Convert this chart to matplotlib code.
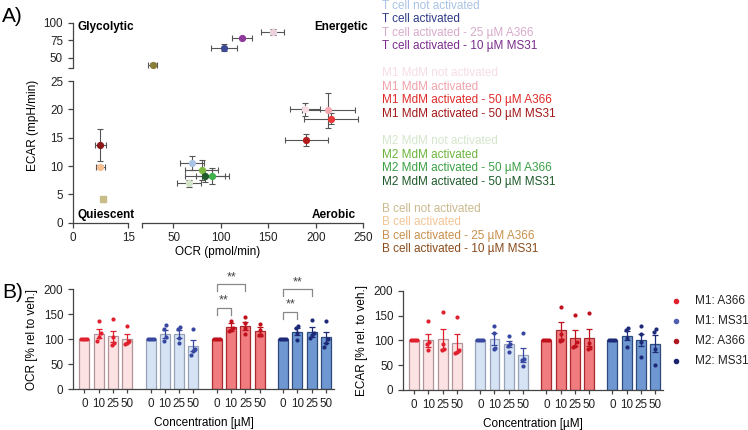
import matplotlib
matplotlib.use('Agg')
import matplotlib.pyplot as plt
import numpy as np

plt.rcParams['font.family'] = ['Liberation Sans', 'DejaVu Sans']
plt.rcParams['font.size'] = 8.5

W, H = 748, 430
AX_COL = '#444444'

# ---------------- Panel A data ----------------
labels_A = ['T cell not activated', 'T cell activated', 'T cell activated - 25 µM A366', 'T cell activated - 10 µM MS31',
            'M1 MdM not activated', 'M1 MdM activated', 'M1 MdM activated - 50 µM A366', 'M1 MdM activated - 50 µM MS31',
            'M2 MdM not activated', 'M2 MdM activated', 'M2 MdM activated - 50 µM A366', 'M2 MdM activated - 50 µM MS31',
            'B cell not activated', 'B cell activated', 'B cell activated - 25 µM A366', 'B cell activated - 10 µM MS31']
text_colors_A = ['#a9c4e4', '#2e3a87', '#d8aacb', '#7b2d8e',
                 '#f7dde4', '#f0a2aa', '#e02a2a', '#a31818',
                 '#d5e6cc', '#6cb43c', '#3aa044', '#1e5a2a',
                 '#cbb98e', '#f2c596', '#c8904c', '#8a4a1a']
point_colors_A = ['#a9c4e4', '#3c4a96', '#ecd2de', '#8e3a9a',
                  '#f6dde3', '#f4a8b0', '#e83838', '#b01c1c',
                  '#d4e4c8', '#7ab840', '#40b04a', '#1e5a2c',
                  '#c8bc88', '#f8c090', '#8a7d3a', '#8a1818']
markers_A = ['o'] * 12 + ['s', 'o', 'o', 'o']
ocr_A = [69.4, 103.7, 154.6, 122.6, 188.6, 213, 216, 190, 66.3, 79.9, 91, 83.5, 8.25, 7.4, 28, 7.4]
ocr_err_A = [12.3, 13.7, 12.3, 10.5, 15.8, 28, 28, 23, 12.8, 17.5, 17.5, 21, 0, 1.2, 4.4, 1.5]
ecar_A = [10.5, 64.6, 86.8, 78.8, 20.0, 19.8, 18.35, 14.6, 6.95, 9.3, 8.24, 8.24, 4.1, 9.9, 40, 13.7]
ecar_err_A = [1.2, 4.5, 4.5, 1.5, 1.2, 3.1, 1.0, 1.0, 0.6, 1.7, 1.4, 1.0, 0, 0.3, 2.0, 2.8]

# ---------------- Panel B data ----------------
conc_labels = ['0', '10', '25', '50']
group_names = ['M1: A366', 'M1: MS31', 'M2: A366', 'M2: MS31']
ocr_means = [[100, 111, 106, 101], [100, 110, 110, 87], [100, 124, 127, 116], [100, 115, 115, 104]]
ocr_sem = [[0, 9, 11, 9], [0, 8, 8, 11], [0, 8, 8, 9], [0, 7, 10, 11]]
ocr_dots = [
    [[100, 100, 100, 100], [136, 112, 104, 97], [140, 104, 92, 88], [127, 96, 92, 90]],
    [[100, 100, 100, 100], [121, 128, 97, 104], [121, 124, 102, 92], [120, 81, 77, 69]],
    [[100, 100, 100, 100], [137, 122, 117, 119], [145, 132, 122, 110], [130, 118, 108, 108]],
    [[100, 100, 100, 100], [126, 122, 113, 99], [138, 112, 108, 102], [137, 100, 93, 85]],
]
ecar_means = [[100, 100, 102, 94], [100, 102, 92, 71], [100, 120, 105, 105], [100, 109, 100, 93]]
ecar_sem = [[0, 13, 20, 18], [0, 12, 6, 14], [0, 17, 16, 17], [0, 9, 12, 17]]
ecar_dots = [
    [[100, 100, 100, 100], [138, 96, 92, 80], [158, 92, 82, 80], [148, 80, 76, 74]],
    [[100, 100, 100, 100], [128, 114, 82, 84], [109, 93, 88, 76], [114, 63, 60, 49]],
    [[100, 100, 100, 100], [168, 113, 98, 100], [152, 96, 86, 88], [156, 94, 85, 82]],
    [[100, 100, 100, 100], [120, 125, 105, 86], [128, 112, 96, 66], [122, 117, 82, 51]],
]
bar_face = ['#fde2e4', '#d5e3f5', '#f07c80', '#6f98d2']
bar_edge = ['#b09498', '#98a2b6', '#a82a2e', '#2e4a7c']
dot_col = ['#e0202c', '#3848a0', '#c0101c', '#1c2a78']
legend_col_B = ['#e0202c', '#5060b0', '#b01820', '#1c2470']

fig = plt.figure(figsize=(W / 100, H / 100), dpi=100)


def add_ax(x0, y_top, x1, y_bot):
    return fig.add_axes([x0 / W, 1 - y_bot / H, (x1 - x0) / W, (y_bot - y_top) / H])


def style(ax, left=False, bottom=False):
    for s in ax.spines.values():
        s.set_visible(False)
    ax.spines['left'].set_visible(left)
    ax.spines['bottom'].set_visible(bottom)
    for s in ax.spines.values():
        s.set_color(AX_COL)
        s.set_linewidth(0.9)
    ax.tick_params(colors=AX_COL, labelcolor='#222222', labelsize=8.4, length=3.5, width=0.9)
    ax.patch.set_alpha(0)


axLL = add_ax(72.7, 81, 128.3, 222.7)
axRL = add_ax(141.7, 81, 363.3, 222.7)
axLU = add_ax(72.7, 22.7, 128.3, 68.3)
axRU = add_ax(141.7, 22.7, 363.3, 68.3)
XL, XR, YL, YU = (0, 15), (16.5, 250), (0, 25), (35, 100)
for ax, xl, yl in [(axLL, XL, YL), (axRL, XR, YL), (axLU, XL, YU), (axRU, XR, YU)]:
    ax.set_xlim(*xl)
    ax.set_ylim(*yl)
style(axLL, left=True, bottom=True)
style(axRL, bottom=True)
style(axLU, left=True)
style(axRU)
axLL.set_xticks([0, 15])
axLL.set_yticks([0, 5, 10, 15, 20, 25])
axRL.set_xticks([16.5, 50, 100, 150, 200, 250])
axRL.set_xticklabels(['', '50', '100', '150', '200', '250'])
axRL.set_yticks([])
axLU.set_xticks([])
axLU.set_yticks([35, 50, 75, 100])
axLU.set_yticklabels(['', '50', '75', '100'])
axRU.set_xticks([])
axRU.set_yticks([])

for i in range(len(ocr_A)):
    x, y = ocr_A[i], ecar_A[i]
    ax = (axLL if y < 30 else axLU) if x < 15.5 else (axRL if y < 30 else axRU)
    ax.errorbar(x, y, xerr=ocr_err_A[i] or None, yerr=ecar_err_A[i] or None,
                fmt=markers_A[i], ms=4.2, mfc=point_colors_A[i], mec=point_colors_A[i],
                ecolor='#555555', elinewidth=0.8, capsize=2.2, capthick=0.8, clip_on=False, zorder=3)

fig.text(77.7 / W, 1 - 27 / H, 'Glycolytic', fontweight='bold', fontsize=8.5, va='center', ha='left')
fig.text(368 / W, 1 - 27 / H, 'Energetic', fontweight='bold', fontsize=8.5, va='center', ha='right')
fig.text(77.7 / W, 1 - 215 / H, 'Quiescent', fontweight='bold', fontsize=8.5, va='center', ha='left')
fig.text(356 / W, 1 - 215 / H, 'Aerobic', fontweight='bold', fontsize=8.5, va='center', ha='right')
fig.text(33 / W, 1 - 125 / H, 'ECAR (mpH/min)', rotation=90, va='center', ha='center', fontsize=8.5)
fig.text(218 / W, 1 - 252 / H, 'OCR (pmol/min)', va='center', ha='center', fontsize=8.5)
fig.text(2 / W, 1 - 17 / H, 'A)', fontsize=15, va='center', ha='left')
fig.text(2 / W, 1 - 292 / H, 'B)', fontsize=15, va='center', ha='left')

k_rows = [0, 1, 2, 3, 5, 6, 7, 8, 10, 11, 12, 13, 15, 16, 17, 18]
for lab, col, k in zip(labels_A, text_colors_A, k_rows):
    fig.text(382.3 / W, 1 - (6 + 13.5 * k) / H, lab, color=col, fontsize=8.5, va='center', ha='left')

# ---------------- Panel B ----------------
GAP = 4.65
BW = 0.7


def swarm(vals, step=0.14, tol=9):
    order = np.argsort(vals)
    offs = np.zeros(len(vals))
    clusters, cur = [], [order[0]]
    for a, b in zip(order[:-1], order[1:]):
        if vals[b] - vals[a] < tol:
            cur.append(b)
        else:
            clusters.append(cur)
            cur = [b]
    clusters.append(cur)
    for c in clusters:
        n = len(c)
        for j, idx in enumerate(c):
            offs[idx] = -step * (n - 1) / 2 + j * step
    return offs


def bar_panel(ax, means, sems, dots, ylabel):
    style(ax, left=True, bottom=True)
    xt, xl = [], []
    for g in range(4):
        pos = g * GAP + np.arange(4)
        ax.bar(pos, means[g], width=BW, color=bar_face[g], edgecolor=bar_edge[g], linewidth=0.9, zorder=1)
        for i in range(4):
            if sems[g][i] > 0:
                ax.errorbar(pos[i], means[g][i], yerr=sems[g][i], fmt='none', ecolor=dot_col[g],
                            elinewidth=0.9, capsize=2.2, capthick=0.9, zorder=2)
            v = np.array(dots[g][i], dtype=float)
            ax.scatter(pos[i] + swarm(v), v, s=9, color=dot_col[g], zorder=3, linewidths=0)
        xt += list(pos)
        xl += conc_labels
    ax.set_xticks(xt)
    ax.set_xticklabels(xl)
    ax.set_xlim(-0.79, 3 * GAP + 3 + 0.56)
    ax.set_ylim(0, 200)
    ax.set_yticks([0, 50, 100, 150, 200])
    ax.set_xlabel('Concentration [µM]', fontsize=8.5, labelpad=5)
    ax.set_ylabel(ylabel, fontsize=8.5, labelpad=4)
    ax.tick_params(axis='x', length=3)


axB1 = add_ax(73, 289.3, 334, 389.3)
axB2 = add_ax(403, 290.7, 663, 390)
bar_panel(axB1, ocr_means, ocr_sem, ocr_dots, 'OCR [% rel to veh.]')
bar_panel(axB2, ecar_means, ecar_sem, ecar_dots, 'ECAR [% rel. to veh.]')


def bracket(ax, x0, x1, y, leg):
    ax.plot([x0, x0, x1, x1], [y - leg, y, y, y - leg], color='#888888', lw=0.9, clip_on=False)
    ax.text((x0 + x1) / 2, y + 2, '**', ha='center', va='bottom', fontsize=9, color='#444444', clip_on=False)


for g, (yi, yo) in [(2, (163, 210)), (3, (155, 200))]:
    b = g * GAP
    bracket(axB1, b, b + 1, yi, 14)
    bracket(axB1, b, b + 2, yo, 13)

for j, (name, col) in enumerate(zip(group_names, legend_col_B)):
    yy = 1 - (300.7 + 20 * j) / H
    fig.lines.append(plt.Line2D([675.7 / W], [yy], marker='o', ms=3, color=col, transform=fig.transFigure))
    fig.text(695 / W, yy, name, fontsize=8.5, va='center', ha='left', color='#222222')

fig.savefig('out.png', dpi=100)
